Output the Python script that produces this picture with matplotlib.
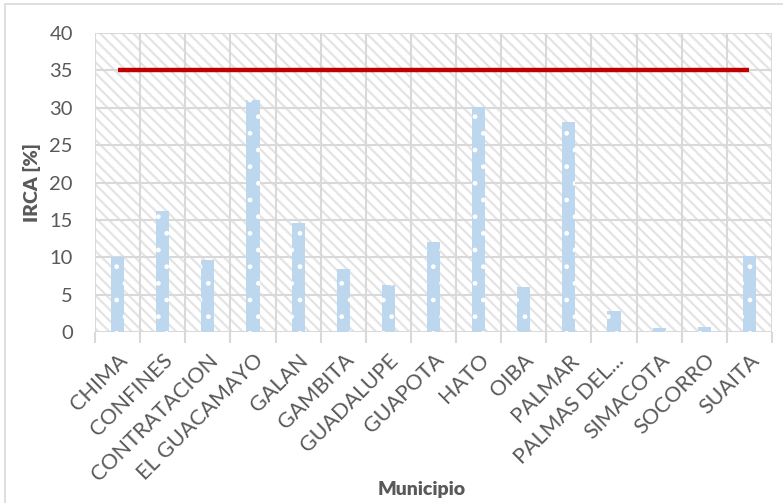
import matplotlib
matplotlib.use("Agg")
import matplotlib.pyplot as plt
from matplotlib.patches import Rectangle
import numpy as np

municipios = ["CHIMA", "CONFINES", "CONTRATACION", "EL GUACAMAYO", "GALAN",
              "GAMBITA", "GUADALUPE", "GUAPOTA", "HATO", "OIBA", "PALMAR",
              "PALMAS DEL...", "SIMACOTA", "SOCORRO", "SUAITA"]
irca = [10.0, 16.2, 9.6, 31.0, 14.6, 8.4, 6.3, 12.0, 30.1, 6.0, 28.1,
        2.8, 0.5, 0.7, 10.2]
limite = 35.0
yticks = [0, 5, 10, 15, 20, 25, 30, 35, 40]

plt.rcParams['font.family'] = ['Lato', 'DejaVu Sans']
plt.rcParams['hatch.linewidth'] = 1.6

W, H = 783, 503
fig = plt.figure(figsize=(W / 100, H / 100), dpi=100)
ax = fig.add_axes([95 / W, 1 - 332 / H, (772 - 95) / W, (332 - 33) / H])

x = np.arange(len(municipios))
ax.set_xlim(-0.5, len(municipios) - 0.5)
ax.set_ylim(0, 40)

# hatched plot background
ax.set_facecolor("white")
bg = Rectangle((0, 0), 1, 1, transform=ax.transAxes, facecolor="white",
               edgecolor="#E4E4E4", hatch="\\\\\\", linewidth=0, zorder=0)
ax.add_patch(bg)

# grid
grid_c = "#D9D9D9"
for yv in yticks:
    ax.axhline(yv, color=grid_c, lw=1.5, zorder=1)
for b in np.arange(-0.5, len(municipios), 1.0):
    ax.axvline(b, color=grid_c, lw=1.5, zorder=1)

plt.rcParams['hatch.linewidth'] = 1.0
ax.bar(x, irca, width=0.29, color="#BDD7EE", edgecolor="white",
       linewidth=0, hatch=".", zorder=2)

ax.plot(x, [limite] * len(x), color="#C00000", lw=3.2, zorder=3,
        solid_capstyle="butt")

for s in ax.spines.values():
    s.set_visible(False)

ax.set_yticks(yticks)
ax.set_yticklabels([str(v) for v in yticks], fontsize=14.5, color="#595959")
ax.tick_params(axis="y", length=0, pad=16)

ax.set_xticks(x)
ax.set_xticklabels(municipios, rotation=45, ha="right", rotation_mode="anchor",
                   fontsize=15.5, color="#595959")
ax.set_xticks(np.arange(-0.5, len(municipios), 1.0), minor=True)
ax.tick_params(axis="x", which="major", length=0, pad=13)
ax.tick_params(axis="x", which="minor", length=8, width=1.5, color=grid_c)

ax.set_ylabel("IRCA [%]", fontsize=14, fontweight="heavy", color="#595959",
              labelpad=6)
fig.text(422 / W, 1 - 490 / H, "Municipio", fontsize=14, fontweight="heavy",
         color="#595959", ha="center", va="center")

# chart border
fig.patches.append(Rectangle((5 / W, -0.1), 1.2, 1 - 4 / H + 0.1,
                             transform=fig.transFigure, fill=False,
                             edgecolor="#D9D9D9", linewidth=1.2))

fig.savefig("out.png", dpi=100)
